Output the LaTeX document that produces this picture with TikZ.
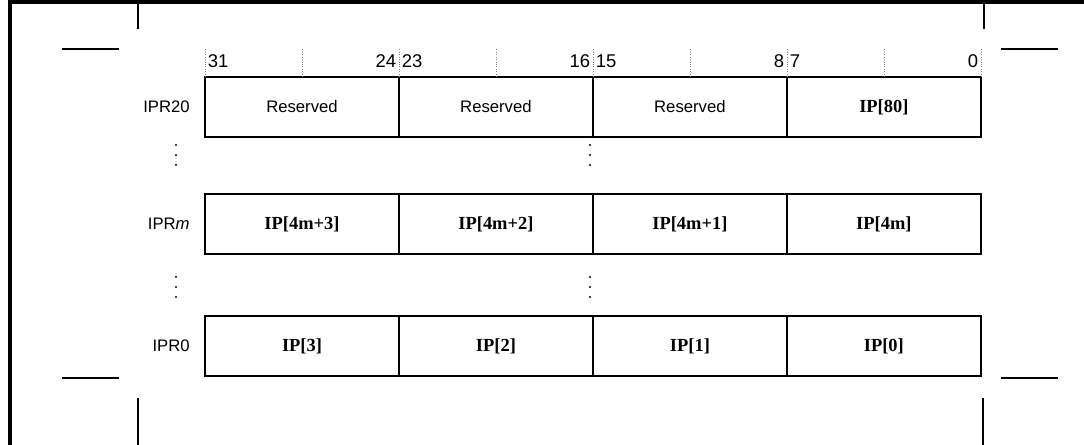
\documentclass[tikz,border=0pt]{standalone}
\usepackage{fontspec}
\setmainfont{Liberation Serif}
\setsansfont{Liberation Sans}
\usetikzlibrary{positioning}
\tikzset{
node distance=0cm, % boxes of a register touch each other
field/.style={draw, line width=0.9pt, minimum width=3.88cm, minimum height=1.2cm,
  inner sep=0pt, outer sep=0pt, font=\bfseries\fontsize{10.5}{12}\selectfont},
resv/.style={field, font=\sffamily\fontsize{9.5}{11}\selectfont},
regname/.style={inner sep=0pt, font=\sffamily\fontsize{9.5}{11}\selectfont},
bitno/.style={inner sep=0pt, font=\sffamily\fontsize{10.5}{12}\selectfont},
bittick/.style={densely dotted, gray, line width=0.4pt},
crop/.style={line width=0.7pt},
frame/.style={line width=1.8pt},
}

\begin{document}
\begin{tikzpicture}[x=0.02cm, y=-0.02cm]
   \useasboundingbox (0,0) rectangle (1084,445);
   % frame and crop marks
   \draw[frame] (10,445) -- (10,2) -- (1084,2);
   \draw[crop] (138,4) -- (138,29) (62,49) -- (119,49);
   \draw[crop] (984,4) -- (984,29) (1001,49) -- (1058,49);
   \draw[crop] (62,378) -- (119,378) (138,398) -- (138,445);
   \draw[crop] (1001,378) -- (1058,378) (983,398) -- (983,445);

   % IPR20
   \node[resv, anchor=north west] (r20a) at (205,77) {Reserved};
   \node[resv] (r20b) [right=of r20a] {Reserved};
   \node[resv] (r20c) [right=of r20b] {Reserved};
   \node[field] (r20d) [right=of r20c] {IP[80]};
   \node[regname] (n20) [left=0.3cm of r20a] {IPR20};

   % IPRm
   \node[field, anchor=north west] (rma) at (205,194) {IP[4m+3]};
   \node[field] (rmb) [right=of rma] {IP[4m+2]};
   \node[field] (rmc) [right=of rmb] {IP[4m+1]};
   \node[field] (rmd) [right=of rmc] {IP[4m]};
   \node[regname] (nm) [left=0.3cm of rma] {IPR\textit{m}};

   % IPR0
   \node[field, anchor=north west] (r0a) at (205,316) {IP[3]};
   \node[field] (r0b) [right=of r0a] {IP[2]};
   \node[field] (r0c) [right=of r0b] {IP[1]};
   \node[field] (r0d) [right=of r0c] {IP[0]};
   \node[regname] (n0) [left=0.3cm of r0a] {IPR0};

   % bit numbers and ticks
   \foreach \b/\hi/\lo in {r20a/31/24, r20b/23/16, r20c/15/8, r20d/7/0} {
      \node[bitno, above right=0.18cm and 0.05cm of \b.north west] (hi\hi) {\hi};
      \node[bitno, above left=0.18cm and 0.05cm of \b.north east] (lo\lo) {\lo};
      \draw[bittick] (\b.north west) -- ++(0,-28);
      \draw[bittick] (\b.north) -- ++(0,-28);
   }
   \draw[bittick] (r20d.north east) -- ++(0,-28);

   % vertical dots
   \foreach \x in {176,590}
      \foreach \y in {145,155,165,277,287,297}
         \fill (\x,\y) circle (0.6pt);
\end{tikzpicture}
\end{document}
